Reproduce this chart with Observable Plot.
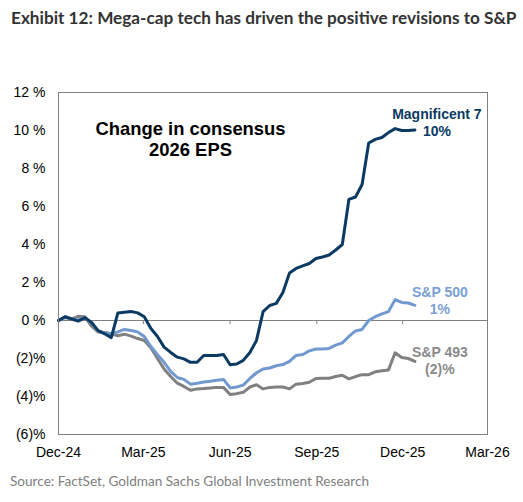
<!DOCTYPE html>
<html>
<head>
<meta charset="utf-8">
<script src="https://cdn.jsdelivr.net/npm/d3@7"></script>
<script src="https://cdn.jsdelivr.net/npm/@observablehq/plot@0.6"></script>
<style>
  html, body { margin: 0; padding: 0; background: #fff; }
  #wrap { position: relative; width: 523px; height: 502px; overflow: hidden; background: #fff; }
  #title { position: absolute; left: 11px; top: 8px; font: bold 17.2px Lato, sans-serif; line-height: 20px; color: #333; white-space: nowrap; }
  #chart { position: absolute; left: 0; top: 35px; }
  #caption { position: absolute; left: 10px; top: 473px; font: 13.6px Lato, sans-serif; line-height: 17px; color: #808080; white-space: nowrap; }
</style>
</head>
<body>
<div id="wrap">
  <div id="title">Exhibit 12: Mega-cap tech has driven the positive revisions to S&amp;P</div>
  <div id="chart"></div>
  <div id="caption">Source: FactSet, Goldman Sachs Global Investment Research</div>
</div>
<script>
const dates = [
  "2024-12-01","2024-12-08","2024-12-15","2024-12-22","2024-12-29",
  "2025-01-05","2025-01-12","2025-01-19","2025-01-26",
  "2025-02-02","2025-02-09","2025-02-16","2025-02-23",
  "2025-03-02","2025-03-09","2025-03-16","2025-03-23","2025-03-30",
  "2025-04-06","2025-04-13","2025-04-20","2025-04-27",
  "2025-05-04","2025-05-11","2025-05-18","2025-05-25",
  "2025-06-01","2025-06-08","2025-06-15","2025-06-22","2025-06-29",
  "2025-07-06","2025-07-13","2025-07-20","2025-07-27",
  "2025-08-03","2025-08-10","2025-08-17","2025-08-24","2025-08-31",
  "2025-09-07","2025-09-14","2025-09-21","2025-09-28",
  "2025-10-05","2025-10-12","2025-10-19","2025-10-26",
  "2025-11-02","2025-11-09","2025-11-16","2025-11-23","2025-11-30",
  "2025-12-07","2025-12-14"
];
const mag7 = [0, 0.2, 0.08, -0.03, 0.15, -0.1, -0.53, -0.7, -0.9, 0.4, 0.44, 0.47, 0.4, 0.2, -0.42, -0.84, -1.4, -1.68, -1.93, -2.02, -2.2, -2.2, -1.84, -1.84, -1.84, -1.79, -2.33, -2.29, -2.1, -1.68, -1.05, 0.47, 0.79, 0.9, 1.47, 2.5, 2.74, 2.87, 3.0, 3.26, 3.34, 3.45, 3.71, 4.0, 6.37, 6.5, 7.16, 9.34, 9.53, 9.63, 9.89, 10.1, 10.0, 10.0, 10.03];
const sp500 = [0, 0.2, 0.08, 0.03, 0.15, -0.1, -0.55, -0.65, -0.7, -0.6, -0.47, -0.53, -0.6, -0.84, -1.37, -1.8, -2.2, -2.68, -3.0, -3.1, -3.35, -3.3, -3.24, -3.2, -3.15, -3.1, -3.55, -3.5, -3.4, -3.05, -2.75, -2.55, -2.5, -2.38, -2.32, -2.15, -1.84, -1.79, -1.6, -1.5, -1.5, -1.47, -1.3, -1.18, -0.84, -0.55, -0.47, 0.0, 0.2, 0.35, 0.47, 1.1, 0.95, 0.92, 0.8];
const sp493 = [0, 0.15, 0.08, 0.22, 0.2, -0.3, -0.6, -0.63, -0.7, -0.8, -0.72, -0.82, -0.95, -1.05, -1.45, -2.0, -2.55, -2.95, -3.3, -3.47, -3.67, -3.6, -3.58, -3.55, -3.52, -3.52, -3.9, -3.85, -3.78, -3.5, -3.38, -3.6, -3.52, -3.5, -3.5, -3.6, -3.35, -3.32, -3.25, -3.05, -3.04, -3.04, -2.95, -2.88, -3.07, -2.95, -2.85, -2.85, -2.7, -2.65, -2.6, -1.7, -1.95, -2.0, -2.15];

const seriesNames = ["S&P 493", "S&P 500", "Magnificent 7"];
const seriesLabels = ["S&P 493\n(2)%", "S&P 500\n1%", "Magnificent 7\n10%"];
const seriesColors = ["#808080", "#7199cf", "#0b3a62"];
const labelColors = ["#8a8a8a", "#7aa0d4", "#0b3a62"];
const labelDy = [-1, -5, -8];
const labelDx = [25, 25, 22];
const xTicks = ["2024-12-01","2025-03-01","2025-06-01","2025-09-01","2025-12-01","2026-03-01"];
const yTicks = [-6, -4, -2, 0, 2, 4, 6, 8, 10, 12];
const annotation = "Change in consensus\n2026 EPS";

const parse = d3.utcParse("%Y-%m-%d");
const valuesBy = [sp493, sp500, mag7];
const rows = [];
valuesBy.forEach((vals, si) => {
  vals.forEach((v, i) => rows.push({series: seriesNames[si], date: parse(dates[i]), value: v}));
});
const lastPts = valuesBy.map((vals, si) => ({
  series: seriesNames[si], label: seriesLabels[si], color: labelColors[si], dy: labelDy[si], dx: labelDx[si],
  date: parse(dates[vals.length - 1]), value: vals[vals.length - 1]
}));
const tickDates = xTicks.map(parse);
const fmtY = v => v >= 0 ? `${v} %` : `(${-v})%`;

const lines = seriesNames.map((name, si) =>
  Plot.line(rows.filter(r => r.series === name), {
    x: "date", y: "value", stroke: seriesColors[si], strokeWidth: 3, strokeLinejoin: "round", strokeLinecap: "round"
  })
);
const labels = lastPts.map(p =>
  Plot.text([p], {
    x: "date", y: "value", text: "label", fill: p.color, dx: p.dx, dy: p.dy,
    textAnchor: "middle", lineAnchor: "middle", lineHeight: 1.2,
    fontSize: 14, fontWeight: "bold", fontFamily: "Liberation Sans, Arial, sans-serif"
  })
);

const chart = Plot.plot({
  width: 523,
  height: 432,
  marginTop: 57,
  marginBottom: 33,
  marginLeft: 58,
  marginRight: 36,
  style: {fontFamily: "Liberation Sans, Arial, sans-serif", fontSize: "14px", color: "#000", background: "#fff", overflow: "visible"},
  x: {type: "utc", domain: [tickDates[0], tickDates[tickDates.length - 1]]},
  y: {domain: [-6, 12]},
  marks: [
    Plot.ruleY([0], {stroke: "#808080", strokeWidth: 1}),
    Plot.ruleX(tickDates, {x: d => d, y1: 0, y2: -0.22, stroke: "#808080", strokeWidth: 1}),
    ...lines,
    ...labels,
    Plot.text([annotation], {
      text: d => d, frameAnchor: "top-left", dx: 132, dy: 46,
      textAnchor: "middle", lineAnchor: "middle", lineHeight: 1.17,
      fontSize: 18.4, fontWeight: "bold", fill: "#000"
    }),
    Plot.frame({stroke: "#808080", strokeWidth: 1}),
    Plot.axisX({ticks: tickDates, tickFormat: d3.utcFormat("%b-%y"), tickSize: 0, tickPadding: 13, label: null, fill: "#000", fontSize: 14}),
    Plot.axisY({ticks: yTicks, tickFormat: fmtY, tickSize: 0, tickPadding: 13, label: null, fill: "#000", fontSize: 14})
  ]
});
document.getElementById("chart").appendChild(chart);
</script>
</body>
</html>
